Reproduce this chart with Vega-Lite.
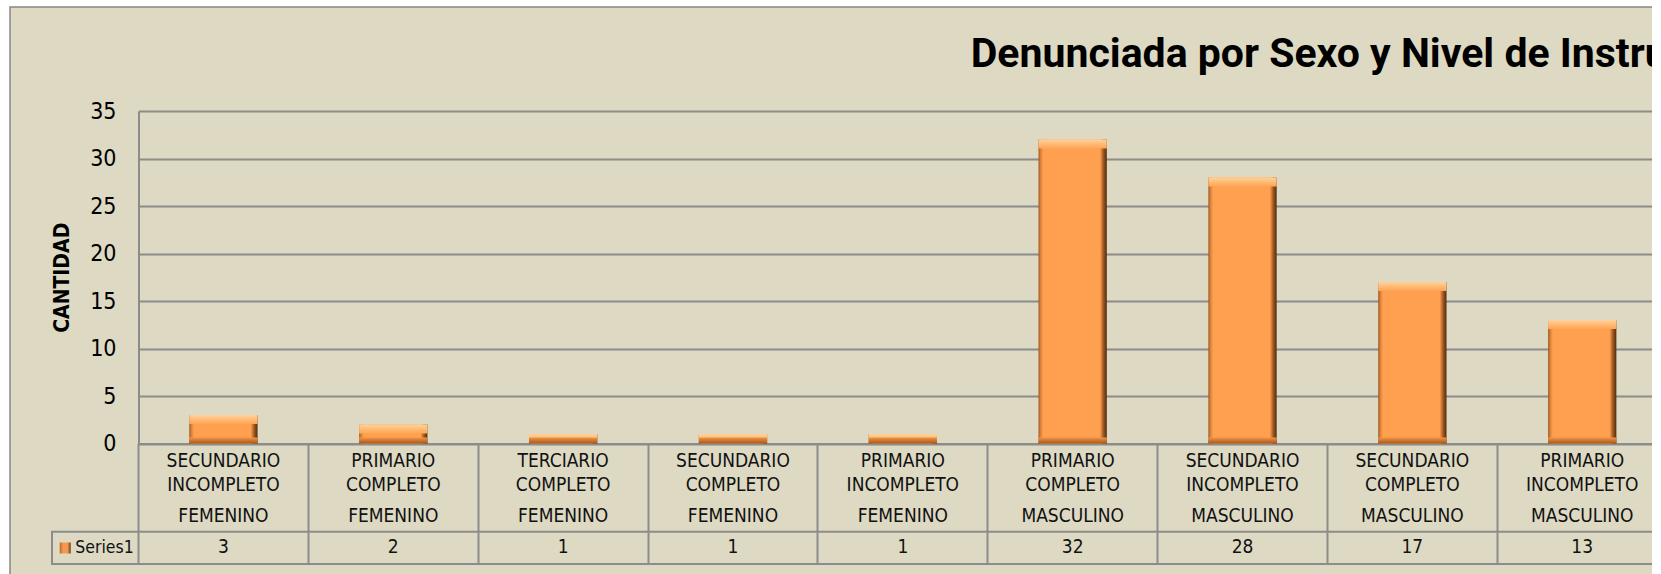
{
  "$schema": "https://vega.github.io/schema/vega-lite/v6.json",
  "autosize": "none",
  "width": 1660,
  "height": 583,
  "padding": {"left": 10, "top": 7, "right": -18, "bottom": -16},
  "background": "#FFFFFF",
  "config": {
    "view": {"stroke": "#868686", "strokeWidth": 1.5, "fill": "#DDD9C3"},
    "font": "DejaVu Sans Condensed, sans-serif"
  },
  "title": {
    "text": "Denunciada por Sexo y Nivel de Instrucción",
    "anchor": "start",
    "frame": "group",
    "dx": 960.7,
    "dy": 41.7,
    "offset": -59.7,
    "baseline": "alphabetic",
    "font": "Roboto",
    "fontSize": 41,
    "fontWeight": "bold",
    "color": "#000000"
  },
  "data": {
    "values": [
      {"orden": 1, "nivel": "SECUNDARIO INCOMPLETO", "sexo": "FEMENINO", "cantidad": 3},
      {"orden": 2, "nivel": "PRIMARIO COMPLETO", "sexo": "FEMENINO", "cantidad": 2},
      {"orden": 3, "nivel": "TERCIARIO COMPLETO", "sexo": "FEMENINO", "cantidad": 1},
      {"orden": 4, "nivel": "SECUNDARIO COMPLETO", "sexo": "FEMENINO", "cantidad": 1},
      {"orden": 5, "nivel": "PRIMARIO INCOMPLETO", "sexo": "FEMENINO", "cantidad": 1},
      {"orden": 6, "nivel": "PRIMARIO COMPLETO", "sexo": "MASCULINO", "cantidad": 32},
      {"orden": 7, "nivel": "SECUNDARIO INCOMPLETO", "sexo": "MASCULINO", "cantidad": 28},
      {"orden": 8, "nivel": "SECUNDARIO COMPLETO", "sexo": "MASCULINO", "cantidad": 17},
      {"orden": 9, "nivel": "PRIMARIO INCOMPLETO", "sexo": "MASCULINO", "cantidad": 13}
    ]
  },
  "layer": [
    {
      "mark": {
        "type": "bar",
        "width": {"band": 0.402},
        "fill": {
          "gradient": "linear",
          "stops": [
            {"offset": 0, "color": "#9E5520"},
            {"offset": 0.03, "color": "#D9813A"},
            {"offset": 0.07, "color": "#FFA050"},
            {"offset": 0.9, "color": "#FFA050"},
            {"offset": 0.95, "color": "#A0581F"},
            {"offset": 1, "color": "#4E2C10"}
          ]
        }
      },
      "encoding": {
        "x": {
          "field": "orden",
          "type": "nominal",
          "scale": {"range": [128.5, 1657.15], "paddingInner": 0, "paddingOuter": 0},
          "axis": {
            "title": null,
            "labels": false,
            "grid": false,
            "offset": -146.5,
            "ticks": true,
            "bandPosition": 0,
            "tickSize": 120.5,
            "tickWidth": 2,
            "tickColor": "#8C8C8C",
            "domain": true,
            "domainColor": "#8C8C8C",
            "domainWidth": 2
          }
        },
        "y": {
          "field": "cantidad",
          "type": "quantitative",
          "scale": {"domain": [0, 35], "nice": false, "range": [436.5, 104]},
          "axis": {
            "title": "CANTIDAD",
            "titleFontSize": 21,
            "titleFontWeight": "bold",
            "titleColor": "#000000",
            "titlePadding": 17,
            "offset": -128.5,
            "values": [0, 5, 10, 15, 20, 25, 30, 35],
            "labelFontSize": 23,
            "labelColor": "#000000",
            "labelPadding": 22.5,
            "labelBaseline": "middle",
            "ticks": false,
            "tickSize": 0,
            "domain": true,
            "domainColor": "#8C8C8C",
            "domainWidth": 2,
            "grid": true,
            "gridColor": "#8C8C8C",
            "gridWidth": 2
          }
        }
      }
    },
    {
      "mark": {
        "type": "bar",
        "width": {"band": 0.402},
        "y2Offset": 9,
        "fill": {
          "gradient": "linear",
          "x1": 0, "y1": 0, "x2": 0, "y2": 1,
          "stops": [
            {"offset": 0, "color": "#FFD29A"},
            {"offset": 1, "color": "#FFA454"}
          ]
        }
      },
      "encoding": {
        "x": {"field": "orden", "type": "nominal"},
        "y": {"field": "cantidad", "type": "quantitative"},
        "y2": {"field": "cantidad"}
      }
    },
    {
      "mark": {
        "type": "bar",
        "width": {"band": 0.402},
        "yOffset": -6,
        "fill": {
          "gradient": "linear",
          "x1": 0, "y1": 0, "x2": 0, "y2": 1,
          "stops": [
            {"offset": 0, "color": "#F29446"},
            {"offset": 1, "color": "#A8591C"}
          ]
        }
      },
      "encoding": {
        "x": {"field": "orden", "type": "nominal"},
        "y": {"datum": 0},
        "y2": {"datum": 0}
      }
    },
    {
      "mark": {"type": "text", "lineBreak": " ", "lineHeight": 24, "baseline": "alphabetic", "fontSize": 19, "yOffset": 23.2, "color": "#111111"},
      "encoding": {
        "x": {"field": "orden", "type": "nominal"},
        "y": {"datum": 0},
        "text": {"field": "nivel"}
      }
    },
    {
      "mark": {"type": "text", "baseline": "alphabetic", "fontSize": 19, "yOffset": 78.8, "color": "#111111"},
      "encoding": {
        "x": {"field": "orden", "type": "nominal"},
        "y": {"datum": 0},
        "text": {"field": "sexo"}
      }
    },
    {
      "mark": {"type": "text", "baseline": "alphabetic", "fontSize": 19, "yOffset": 109.8, "color": "#111111"},
      "encoding": {
        "x": {"field": "orden", "type": "nominal"},
        "y": {"datum": 0},
        "text": {"field": "cantidad", "type": "quantitative"}
      }
    },
    {
      "data": {"values": [{"fila": "Series1"}]},
      "mark": {"type": "rect", "fill": "#DDD9C3", "fillOpacity": 0, "stroke": "#8C8C8C", "strokeWidth": 2, "x": 42, "x2": 1700, "yOffset": 88.2, "y2Offset": 120.5},
      "encoding": {
        "y": {"datum": 0},
        "y2": {"datum": 0}
      }
    },
    {
      "data": {"values": [{"fila": "Series1"}]},
      "mark": {"type": "text", "align": "left", "baseline": "alphabetic", "fontSize": 17.5, "dx": -148.1, "yOffset": 109.8, "color": "#111111"},
      "encoding": {
        "x": {"datum": 1, "type": "nominal"},
        "y": {"datum": 0},
        "text": {"field": "fila"}
      }
    },
    {
      "data": {"values": [{"fila": "Series1"}]},
      "mark": {
        "type": "point",
        "shape": "square",
        "size": 121,
        "filled": true,
        "opacity": 1,
        "xOffset": -158.2,
        "yOffset": 104.5,
        "fill": {
          "gradient": "linear",
          "stops": [
            {"offset": 0, "color": "#B8662A"},
            {"offset": 0.3, "color": "#F49A4E"},
            {"offset": 0.7, "color": "#F49A4E"},
            {"offset": 1, "color": "#6E3C14"}
          ]
        }
      },
      "encoding": {
        "x": {"datum": 1, "type": "nominal"},
        "y": {"datum": 0}
      }
    }
  ]
}
